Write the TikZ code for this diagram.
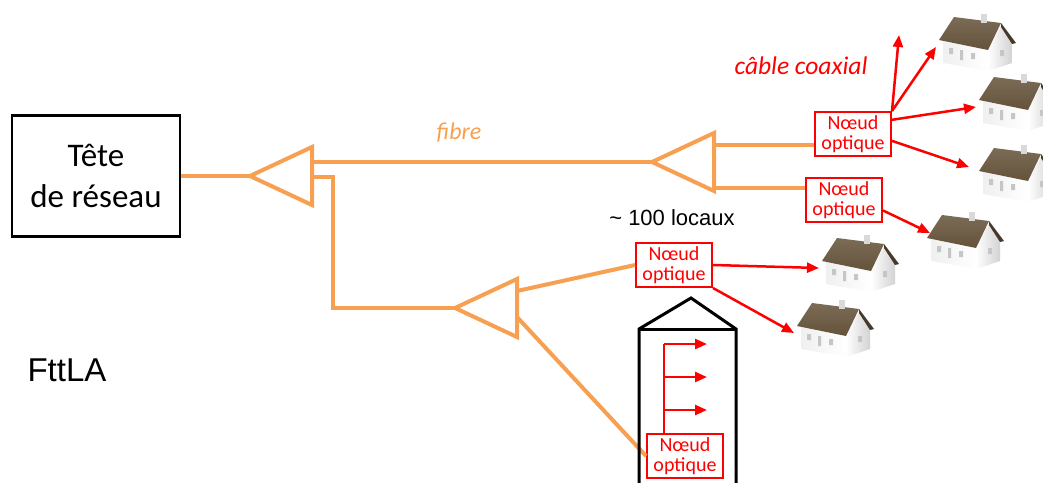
\documentclass[tikz,border=0pt]{standalone}
\usepackage{fontspec}
\setmainfont{Carlito}
\newfontfamily\arialfont{Liberation Sans}
\usetikzlibrary{arrows.meta, positioning}
\definecolor{fibreorange}{RGB}{248,160,82}
\definecolor{coaxred}{RGB}{255,0,0}
\definecolor{roofbrown}{RGB}{100,82,58}

\tikzset{
  fibre/.style={draw=fibreorange, line width=4pt},
  coax/.style={draw=coaxred, line width=2.5pt, -{Triangle[length=12pt,width=10pt]}},
  optnode/.style={draw=coaxred, line width=2pt, text=coaxred, align=center,
    minimum width=76pt, minimum height=44pt, inner sep=0pt,
    font=\fontsize{20}{19.5}\selectfont},
  splitter/.pic={
    \draw[fibre] (0,0) -- (62,-29) -- (62,29) -- cycle;
    \coordinate (-tip) at (0,0);
    \coordinate (-back) at (62,0);
  },
  house/.pic={
    % long wall
    \shade[left color=gray!12, right color=white] (3,24) -- (48,33) -- (48,54) -- (3,46) -- cycle;
    % gable wall
    \shade[left color=white, right color=gray!35] (48,33) -- (61,9) -- (72,25) -- (72,46) -- (48,54) -- cycle;
    % roof
    \shade[top color=roofbrown!85!white, bottom color=roofbrown] (-1,23) -- (14,0) -- (61,6) -- (48,33) -- cycle;
    \fill[roofbrown!70!black] (61,6) -- (76,26) -- (72,27) -- (61,10) -- cycle;
    % chimney
    \fill[gray!30] (41,-3) rectangle (47,6);
    % windows and door
    \fill[gray!45] (9,31) rectangle (13,37) (20,33) rectangle (23,43) (31,36) rectangle (35,42) (60,33) rectangle (64,39);
    \coordinate (-port) at (-4,30);
  }
}

\begin{document}
\begin{tikzpicture}[x=1pt, y=-1pt]
\useasboundingbox (0,0) rectangle (1043,482);

% Head end
\node[draw=black, line width=2.5pt, minimum width=168pt, minimum height=121pt, align=center,
  font=\fontsize{33}{41}\selectfont] (tete) at (96,176) {Tête\\de réseau};
\node[font=\arialfont\fontsize{33}{40}\selectfont] (fttla) at (67,370) {FttLA};

% Splitters
\pic (s1) at (250,176) {splitter};
\pic (s2) at (652,162) {splitter};
\pic (s3) at (455,308) {splitter};

% Optical nodes
\node[optnode] (n1) at (853,134) {Nœud\\optique};
\node[optnode] (n2) at (844,200) {Nœud\\optique};
\node[optnode] (n3) at (674,265) {Nœud\\optique};
\node[optnode] (n4) at (685,456) {Nœud\\optique};

% Houses
\pic (h1) at (940,17) {house};
\pic (h2) at (980,77) {house};
\pic (h3) at (980,148) {house};
\pic (h4) at (928,215) {house};
\pic (h5) at (823,238) {house};
\pic (h6) at (798,303) {house};

% Labels
\node[text=fibreorange, font=\fontsize{24}{28}\selectfont\itshape] (fibrelbl) at (459,133) {fibre};
\node[text=coaxred, font=\fontsize{25.5}{28}\selectfont\itshape] (coaxlbl) at (801,66) {câble coaxial};
\node[font=\arialfont\fontsize{22}{26}\selectfont] (locaux) at (672,218) {\textasciitilde{} 100 locaux};

% Fibre links
\draw[fibre] (tete.east) -- (s1-tip);
\draw[fibre] ([yshift=14pt]s1-back) -- (s2-tip);
\draw[fibre] ([yshift=-1pt]s1-back) -- ++(21,0) |- (s3-tip);
\draw[fibre] ([yshift=17pt]s2-back) coordinate (f1) -- (f1 -| n1.west);
\draw[fibre] ([yshift=-26pt]s2-back) coordinate (f2) -- (f2 -| n2.west);
\draw[fibre] ([yshift=17pt]s3-back) -- (n3.west);
\draw[fibre] ([yshift=-9pt]s3-back) -- (n4.west);

% Building
\draw[line width=3pt, line join=miter] (639,484) -- (639,329) -- (691,298) -- (736,329) -- (736,484);
\draw[line width=3pt] (639,329) -- (736,329);

% Coax links
\coordinate (spare) at (899,35);
\draw[coax] (n1.north east) -- (spare);
\draw[coax] (n1.north east) -- (h1-port);
\draw[coax] (n1.20) -- (h2-port);
\draw[coax] (n1.-10) -- ([shift={(-7,-11)}]h3-port);
\draw[coax] (n2.-15) -- ([shift={(6,-12)}]h4-port);
\draw[coax] (n3.east) -- (h5-port);
\draw[coax] (n3.south east) -- (h6-port);

% Riser inside the building
\coordinate (riser) at (664,344);
\draw[draw=coaxred, line width=2.5pt] (n4.north -| riser) -- (riser);
\foreach \dy in {0,33,66}
  \draw[coax] ([yshift=-\dy pt]riser) -- ++(43,0);
\end{tikzpicture}
\end{document}
